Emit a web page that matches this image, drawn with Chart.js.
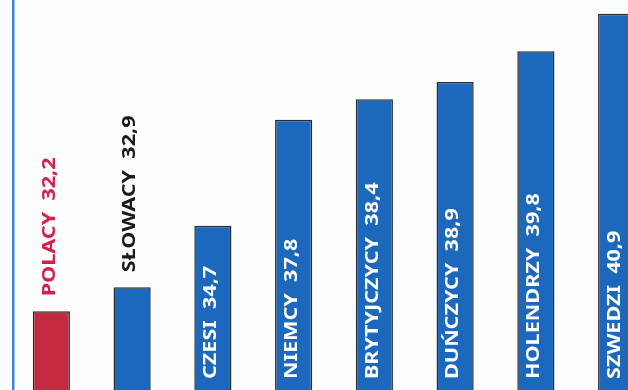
<!DOCTYPE html>
<html>
<head>
<meta charset="utf-8">
<script src="https://cdn.jsdelivr.net/npm/chart.js@4.4.1/dist/chart.umd.min.js"></script>
<style>
  html, body { margin: 0; padding: 0; background: #fdfdfd; overflow: hidden; }
  #wrap { position: absolute; left: 0; top: 0; width: 657px; height: 390px; }
</style>
</head>
<body>
<div id="wrap"><canvas id="chart"></canvas></div>
<script>
// Data
const nations = ['POLACY', 'SŁOWACY', 'CZESI', 'NIEMCY', 'BRYTYJCZYCY', 'DUŃCZYCY', 'HOLENDRZY', 'SZWEDZI'];
const ages = [32.2, 32.9, 34.7, 37.8, 38.4, 38.9, 39.8, 40.9];
const highlight = 'POLACY';

const BLUE = '#1c68bd';
const RED = '#c3293f';
const RED_TEXT = '#d2214a';

// bar labels written up the bars, inside when they fit, above otherwise
const barLabels = {
    id: 'barLabels',
    afterDatasetsDraw(chart) {
        const ctx = chart.ctx;
        const meta = chart.getDatasetMeta(0);
        const area = chart.chartArea;
        const stretch = 1.2;
        ctx.save();
        ctx.font = 'bold 18px "Noto Sans"';
        meta.data.forEach((bar, i) => {
            const text = nations[i] + '  ' + ages[i].toFixed(1).replace('.', ',');
            const len = ctx.measureText(text).width * stretch;
            const inside = (area.bottom - bar.y) > len + 24;
            let y0, color;
            if (inside) {
                y0 = area.bottom - 11;
                color = '#ffffff';
            } else {
                y0 = bar.y - 15;
                color = nations[i] === highlight ? RED_TEXT : '#1a1a1a';
            }
            ctx.save();
            ctx.translate(bar.x - 2, y0);
            ctx.rotate(-Math.PI / 2);
            ctx.scale(stretch, 1);
            ctx.fillStyle = color;
            ctx.textAlign = 'left';
            ctx.textBaseline = 'middle';
            ctx.fillText(text, 0, 0);
            ctx.restore();
        });
        ctx.restore();
    }
};

// thin blue frame line on the left
const frameLine = {
    id: 'frameLine',
    beforeDatasetsDraw(chart) {
        const ctx = chart.ctx;
        ctx.save();
        ctx.fillStyle = '#3a86d8';
        ctx.fillRect(chart.chartArea.left + 1, 0, 2.5, chart.height);
        ctx.restore();
    }
};

new Chart(document.getElementById('chart'), {
    type: 'bar',
    data: {
        labels: nations,
        datasets: [{
            data: ages,
            backgroundColor: nations.map(n => n === highlight ? RED : BLUE),
            borderColor: '#2b2b2b',
            borderWidth: 1.5,
            borderSkipped: 'bottom',
            categoryPercentage: 1,
            barPercentage: 0.46
        }]
    },
    options: {
        responsive: true,
        maintainAspectRatio: false,
        animation: false,
        layout: { padding: { left: 11, right: 0, top: 0, bottom: 0 } },
        scales: {
            x: { display: false },
            y: { display: false, min: 29.9, max: 41.3 }
        },
        plugins: {
            legend: { display: false },
            tooltip: { enabled: false }
        }
    },
    plugins: [frameLine, barLabels]
});
</script>
</body>
</html>
